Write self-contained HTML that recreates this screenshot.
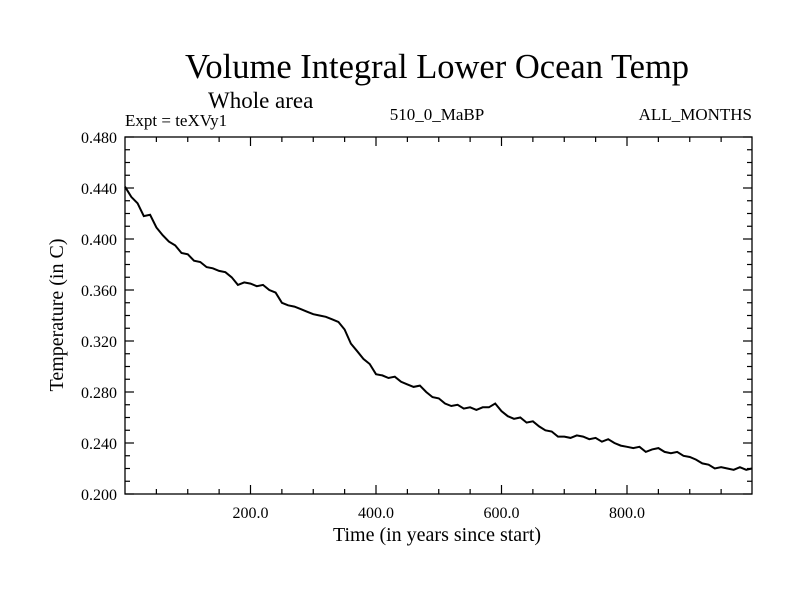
<!DOCTYPE html>
<html><head><meta charset="utf-8"><style>
body{margin:0;background:#fff;}
svg text{font-family:"Liberation Serif",serif;fill:#000;}
</style></head><body>
<svg width="800" height="600" id="c">
<text x="437" y="78" font-size="34.5" text-anchor="middle">Volume Integral Lower Ocean Temp</text>
<text x="208" y="108" font-size="23">Whole area</text>
<text x="125" y="126" font-size="17">Expt = teXVy1</text>
<text x="437" y="120" font-size="17" text-anchor="middle">510_0_MaBP</text>
<text x="752" y="120" font-size="17" text-anchor="end">ALL_MONTHS</text>
<text x="437" y="541" font-size="20" text-anchor="middle">Time (in years since start)</text>
<text transform="translate(63,315) rotate(-90)" font-size="20" text-anchor="middle">Temperature (in C)</text>
<g id="ticks"></g>
<rect x="125" y="137" width="627" height="357" fill="none" stroke="#000" stroke-width="1.3"/>
<path id="line" fill="none" stroke="#000" stroke-width="2"/>
</svg>
<script>
const years=[0,10,20,30,40,50,60,70,80,90,100,110,120,130,140,150,160,170,180,190,200,210,220,230,240,250,260,270,280,290,300,310,320,330,340,350,360,370,380,390,400,410,420,430,440,450,460,470,480,490,500,510,520,530,540,550,560,570,580,590,600,610,620,630,640,650,660,670,680,690,700,710,720,730,740,750,760,770,780,790,800,810,820,830,840,850,860,870,880,890,900,910,920,930,940,950,960,970,980,990,999];
const temps=[0.441,0.433,0.428,0.418,0.419,0.409,0.403,0.398,0.395,0.389,0.388,0.383,0.382,0.378,0.377,0.375,0.374,0.370,0.364,0.366,0.365,0.363,0.364,0.360,0.358,0.350,0.348,0.347,0.345,0.343,0.341,0.340,0.339,0.337,0.335,0.329,0.318,0.312,0.306,0.302,0.294,0.293,0.291,0.292,0.288,0.286,0.284,0.285,0.280,0.276,0.275,0.271,0.269,0.270,0.267,0.268,0.266,0.268,0.268,0.271,0.265,0.261,0.259,0.260,0.256,0.257,0.253,0.250,0.249,0.245,0.245,0.244,0.246,0.245,0.243,0.244,0.241,0.243,0.240,0.238,0.237,0.236,0.237,0.233,0.235,0.236,0.233,0.232,0.233,0.230,0.229,0.227,0.224,0.223,0.220,0.221,0.220,0.219,0.221,0.219,0.220];
const xTicks=[200,400,600,800];
const xTickLabels=["200.0","400.0","600.0","800.0"];
const yTicks=[0.2,0.24,0.28,0.32,0.36,0.4,0.44,0.48];
const yTickLabels=["0.200","0.240","0.280","0.320","0.360","0.400","0.440","0.480"];
const X=t=>125+t*0.6275, Y=v=>494-(v-0.2)*357/0.28;
const NS="http://www.w3.org/2000/svg", g=document.getElementById('ticks');
function ln(x1,y1,x2,y2,n){const l=document.createElementNS(NS,'line');l.setAttribute('x1',x1);l.setAttribute('y1',y1);l.setAttribute('x2',x2);l.setAttribute('y2',y2);l.setAttribute('stroke','#000');l.setAttribute('stroke-width','1.2');


g.appendChild(l);}
function tx(x,y,s,a,n){const t=document.createElementNS(NS,'text');t.setAttribute('x',x);t.setAttribute('y',y);t.setAttribute('font-size','16');t.setAttribute('text-anchor',a);t.textContent=s;


g.appendChild(t);}
for(let t=50;t<1000;t+=50){const maj=t%200===0,L=maj?9:5;ln(X(t),494,X(t),494-L,'x-tick');ln(X(t),137,X(t),137+L,'x-tick-top');}
for(let i=0;i<=28;i++){const v=0.2+i*0.01,maj=i%4===0,L=maj?9:5;ln(125,Y(v),125+L,Y(v),'y-tick');ln(752,Y(v),752-L,Y(v),'y-tick-right');}
xTicks.forEach((t,i)=>tx(X(t),518,xTickLabels[i],'middle','x-tick-label'));
yTicks.forEach((v,i)=>tx(117,Y(v)+6,yTickLabels[i],'end','y-tick-label'));
document.getElementById('line').setAttribute('d',years.map((t,i)=>(i?'L':'M')+X(t).toFixed(1)+','+Y(temps[i]).toFixed(1)).join(''));
</script>
</body></html>
